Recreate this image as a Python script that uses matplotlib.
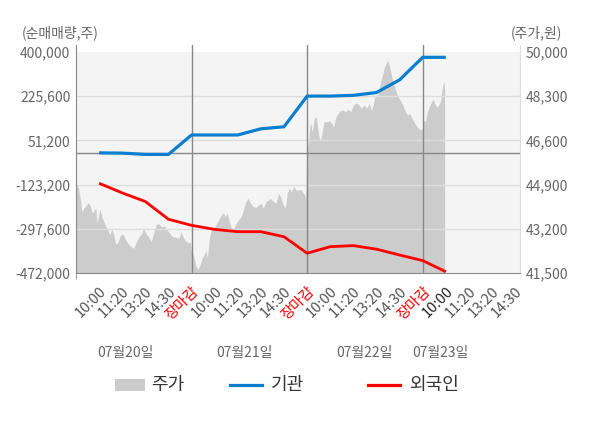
import matplotlib
matplotlib.use("Agg")
import matplotlib.pyplot as plt
from matplotlib.patches import Rectangle
from matplotlib.lines import Line2D

plt.rcParams['font.family'] = ['Noto Sans CJK KR', 'DejaVu Sans']

# x ticks: four trading days, 5 ticks per day (last day partial)
tick_labels = ['10:00', '11:20', '13:20', '14:30', '장마감',
               '10:00', '11:20', '13:20', '14:30', '장마감',
               '10:00', '11:20', '13:20', '14:30', '장마감',
               '10:00', '11:20', '13:20', '14:30']
dates = ['07월20일', '07월21일', '07월22일', '07월23일']
date_pos = [0.43, 1.46, 2.5, 3.15]

# net buying (shares), one value per tick from the first 10:00 to the last 10:00
inst = [2000, 1000, -4000, -4000, 72600, 72600, 72600, 97000, 105000,
        226000, 226000, 229000, 240000, 290000, 379000, 379000]
foreign = [-118000, -156000, -190000, -260000, -284000, -300000, -309000,
           -309000, -329000, -394000, -368000, -364000, -378000, -401000,
           -423000, -467000]

# stock price (won), x in trading-day units
price_x = [0.004, 0.022, 0.039, 0.05, 0.068, 0.091, 0.108, 0.125, 0.143, 0.16,
           0.171, 0.183, 0.206, 0.229, 0.252, 0.275, 0.292, 0.31, 0.327, 0.344,
           0.361, 0.385, 0.408, 0.43, 0.454, 0.477, 0.5, 0.523, 0.546, 0.569,
           0.586, 0.603, 0.627, 0.65, 0.672, 0.696, 0.719, 0.742, 0.765, 0.788,
           0.811, 0.834, 0.869, 0.892, 0.909, 0.932, 0.955, 0.978, 0.99,
           0.998, 1.016, 1.039, 1.056, 1.073, 1.091, 1.108, 1.125, 1.137, 1.154,
           1.171, 1.194, 1.217, 1.234, 1.258, 1.275, 1.292, 1.309, 1.327, 1.35,
           1.367, 1.385, 1.407, 1.43, 1.448, 1.465, 1.488, 1.511, 1.534, 1.557,
           1.58, 1.603, 1.62, 1.644, 1.667, 1.684, 1.707, 1.73, 1.753, 1.77,
           1.793, 1.811, 1.828, 1.845, 1.863, 1.886, 1.909, 1.932, 1.955, 1.978,
           1.986,
           2.0, 2.01, 2.027, 2.044, 2.061, 2.079, 2.096, 2.113, 2.131, 2.148,
           2.171, 2.194, 2.211, 2.228, 2.246, 2.263, 2.286, 2.309, 2.332, 2.355,
           2.379, 2.401, 2.424, 2.448, 2.47, 2.494, 2.517, 2.539, 2.557, 2.574,
           2.591, 2.615, 2.632, 2.649, 2.666, 2.684, 2.695, 2.712, 2.729, 2.747,
           2.77, 2.787, 2.805, 2.828, 2.85, 2.868, 2.885, 2.908, 2.932, 2.954,
           2.978, 2.995,
           3.006, 3.023, 3.041, 3.064, 3.087, 3.105, 3.122, 3.139, 3.156, 3.174,
           3.185, 3.19]
price = [44950, 44758, 44308, 43858, 43988, 44115, 44219, 44050, 43796, 43950,
         43988, 43411, 43950, 43604, 43346, 43154, 42961, 43181, 42961, 42615,
         42665, 42961, 43000, 42769, 42615, 42512, 42450, 42704, 42896, 43027,
         43219, 43027, 42896, 42704, 43027, 43385, 43385, 43281, 43308, 43154,
         43027, 42896, 42873, 42835, 43088, 42835, 42704, 42665, 42692,
         42385, 42192, 41742, 41654, 41808, 42065, 42192, 42385, 42065, 42835,
         43154, 43219, 43411, 43538, 43731, 43819, 43665, 43796, 43473, 43154,
         43219, 43411, 43538, 43665, 43923, 44181, 44373, 44181, 44050, 44027,
         44115, 44181, 43988, 44242, 44308, 44373, 44242, 44181, 44565, 44435,
         44115, 43988, 44565, 44758, 44627, 44819, 44665, 44719, 44665, 44500,
         44385,
         46358, 46488, 47319, 46934, 47450, 47511, 46934, 46550, 46934, 47319,
         47319, 47358, 47257, 47104, 47450, 47615, 47742, 47769, 47704, 47796,
         47704, 47961, 48050, 47961, 47834, 47961, 47834, 48027, 47731, 48027,
         48346, 48346, 48796, 49050, 49373, 49565, 49692, 49461, 49115, 48796,
         48473, 48281, 48154, 47961, 47704, 47577, 47642, 47450, 47257, 47104,
         47027, 47000,
         47384, 47319, 47704, 47961, 48181, 48027, 47873, 47961, 48154, 48731,
         48857, 48538]

left_ticks = [400000, 225600, 51200, -123200, -297600, -472000]
right_ticks = [50000, 48300, 46600, 44900, 43200, 41500]

tick_pos = [0.2 * (i + 1) for i in range(len(tick_labels))]
line_x = tick_pos[:len(inst)]

fig = plt.figure(figsize=(6, 4.28), dpi=100)
ax = fig.add_axes([76 / 600, 1 - 273 / 428, 444 / 600, 228 / 428])
ax2 = ax.twinx()
ax.set_zorder(2)
ax2.set_zorder(1)
ax.patch.set_visible(False)
ax2.patch.set_visible(False)

m = 7 / 221
ax.set_ylim(-472000, 400000 + m * 872000)
ax2.set_ylim(41500, 50000 + m * 8500)
ax.set_xlim(0, 3.842)

# background and price area
ax2.axhspan(41500, 50000, color='#f4f4f4', zorder=0, lw=0)
ax2.fill_between(price_x, price, 41500, color='#cccccc', lw=0, zorder=1)

# grid, zero line, day separators
for v in left_ticks[1:-1]:
    ax.axhline(v, color='#dddddd', lw=1, zorder=1)
ax.axhline(0, color='#888888', lw=1, zorder=1)
for d in [1, 2, 3]:
    ax.axvline(d, color='#888888', lw=1, zorder=1)

ax.plot(line_x, inst, color='#0a7fcf', lw=2.3, zorder=3, solid_capstyle='butt')
ax.plot(line_x, foreign, color='#ff0000', lw=2, zorder=3, solid_capstyle='butt')

# axes styling
ax.set_yticks(left_ticks)
ax.set_yticklabels([f'{v:,}' for v in left_ticks])
ax2.set_yticks(right_ticks)
ax2.set_yticklabels([f'{v:,}' for v in right_ticks])
ax.tick_params(axis='y', length=0, labelsize=10, labelcolor='#666666', pad=4)
ax2.tick_params(axis='y', length=0, labelsize=10, labelcolor='#666666', pad=4)

ax.set_xticks(tick_pos)
ax.set_xticklabels(tick_labels, rotation=45, ha='right', rotation_mode='anchor')
ax.set_xticks([0, 1, 2, 3], minor=True)
ax.tick_params(axis='x', which='major', length=0, labelsize=10.5, pad=8)
ax.tick_params(axis='x', which='minor', length=4, color='#888888')
for lbl, txt in zip(ax.get_xticklabels(), tick_labels):
    lbl.set_color('#ff0000' if txt == '장마감' else '#555555')
ax.get_xticklabels()[15].set_color('#222222')

for s in ['top', 'right']:
    ax.spines[s].set_visible(False)
ax.spines['left'].set_color('#888888')
ax.spines['bottom'].set_color('#888888')
for s in ['top', 'left', 'bottom']:
    ax2.spines[s].set_visible(False)
ax2.spines['right'].set_color('#dddddd')

fig.text(22 / 600, 1 - 33 / 428, '(순매매량,주)', fontsize=10, color='#666666', va='center')
fig.text(562 / 600, 1 - 33 / 428, '(주가,원)', fontsize=10, color='#666666', va='center', ha='right')

for d, p in zip(dates, date_pos):
    x_fig = (76 + p / 3.842 * 444) / 600
    fig.text(x_fig, 1 - 353 / 428, d, fontsize=10, color='#666666', ha='center', va='center')

# legend
ly = 1 - 385 / 428
fig.add_artist(Rectangle((115 / 600, ly - 6 / 428), 30 / 600, 12 / 428,
                         transform=fig.transFigure, color='#cccccc', lw=0))
fig.text(151 / 600, ly, '주가', fontsize=13, color='#333333', va='center')
fig.add_artist(Line2D([230 / 600, 262 / 600], [ly, ly], transform=fig.transFigure,
                      color='#0a7fcf', lw=2.3))
fig.text(271 / 600, ly, '기관', fontsize=13, color='#333333', va='center')
fig.add_artist(Line2D([368 / 600, 400 / 600], [ly, ly], transform=fig.transFigure,
                      color='#ff0000', lw=2.3))
fig.text(409 / 600, ly, '외국인', fontsize=13, color='#333333', va='center')

fig.savefig('out.png', dpi=100, facecolor='white')
